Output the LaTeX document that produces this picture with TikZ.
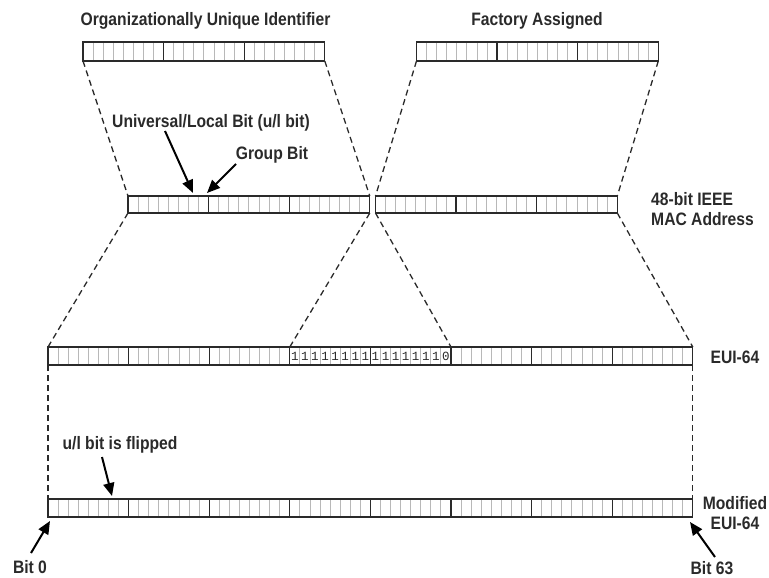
\documentclass[tikz,border=0pt]{standalone}
\usepackage{fontspec}
\setmainfont{Liberation Sans}[FakeStretch=0.87]
\newfontfamily\digitfont{Liberation Mono}
\usetikzlibrary{arrows.meta}
\definecolor{ink}{HTML}{2A2A2A}
\definecolor{bitgray}{HTML}{B8B8B8}
\tikzset{
  barbox/.style={draw=ink, line width=1.3pt, inner sep=0pt, outer sep=0pt, anchor=north west},
  bitline/.style={draw=bitgray, line width=0.9pt},
  byteline/.style={draw=ink, line width=1.3pt},
  dashlink/.style={draw=ink, line width=1.3pt, dash pattern=on 6pt off 4pt},
  arr/.style={draw=black, line width=2pt, -{Triangle[length=13pt,width=11pt]}},
  lbl/.style={text=ink, font=\bfseries\fontsize{18}{20}\selectfont, inner sep=0pt},
  digit/.style={text=ink, font=\digitfont\fontsize{12.5}{12.5}\selectfont, inner sep=0pt}
}
% #1 name, #2 x, #3 y, #4 height, #5 bytes
\newcommand\bitbar[5]{%
  \pgfmathtruncatemacro\nbits{#5*8-1}%
  \pgfmathtruncatemacro\nbytes{#5-1}%
  \foreach \k in {1,...,\nbits} \draw[bitline] (#2+\k*10.075,#3) -- ++(0,#4);
  \foreach \k in {1,...,\nbytes} \draw[byteline] (#2+\k*80.6,#3) -- ++(0,#4);
  \node[barbox, minimum width=#5*80.6pt, minimum height=#4pt] (#1) at (#2,#3) {};
}
\begin{document}
\begin{tikzpicture}[x=1pt,y=-1pt]
\useasboundingbox (0,0) rectangle (769,578);

% titles
\node[lbl] (ouit) at (205.5,21) {Organizationally Unique Identifier};
\node[lbl] (fact) at (537,21) {Factory Assigned};

% bars
\bitbar{oui}{83}{42}{19}{3}
\bitbar{fac}{416.5}{42}{19}{3}
\bitbar{macl}{128}{196}{17}{3}
\bitbar{macr}{375.5}{196}{17}{3}
\bitbar{eui}{48}{347}{18}{8}
\bitbar{meui}{48}{499}{18}{8}

% FFFE field
\node[inner sep=0pt, outer sep=0pt, minimum width=161.2pt, minimum height=18pt, anchor=north west] (fffe) at (289.8,347) {};
\foreach \d [count=\j from 0] in {1,1,1,1,1,1,1,1,1,1,1,1,1,1,1,0}
  \node[digit] at (289.8+\j*10.075+5.04,356.5) {\d};

% dashed connectors
\draw[dashlink] (oui.south west) -- (macl.north west);
\draw[dashlink] (oui.south east) -- (macl.north east);
\draw[dashlink] (fac.south west) -- (macr.north west);
\draw[dashlink] (fac.south east) -- (macr.north east);
\draw[dashlink] (macl.south west) -- (eui.north west);
\draw[dashlink] (macl.south east) -- (fffe.north west);
\draw[dashlink] (macr.south west) -- (fffe.north east);
\draw[dashlink] (macr.south east) -- (eui.north east);
\draw[dashlink] (eui.south west) -- (meui.north west);
\draw[dashlink] (eui.south east) -- (meui.north east);

% labels
\node[lbl] (ult) at (211,123) {Universal/Local Bit (u/l bit)};
\node[lbl] (grp) at (272,155) {Group Bit};
\node[lbl, align=left, anchor=west] (mac) at (651,209) {48-bit IEEE\\MAC Address};
\node[lbl] (euit) at (735,357) {EUI-64};
\node[lbl] (flip) at (120,445) {u/l bit is flipped};
\node[lbl, align=center] (meuit) at (735,513) {Modified\\EUI-64};
\node[lbl] (bit0) at (30,567) {Bit 0};
\node[lbl] (bit63) at (712,568) {Bit 63};

% arrows
\coordinate (ulA) at (165,131);
\coordinate (ulB) at (193,193);
\coordinate (grA) at (236,164);
\coordinate (grB) at (207,193);
\coordinate (flA) at (102,457);
\coordinate (flB) at (112,496);
\coordinate (b0A) at (31,553);
\coordinate (b0B) at (50,521);
\coordinate (b63A) at (715,557);
\coordinate (b63B) at (690,522);
\draw[arr] (ulA) -- (ulB);
\draw[arr] (grA) -- (grB);
\draw[arr] (flA) -- (flB);
\draw[arr] (b0A) -- (b0B);
\draw[arr] (b63A) -- (b63B);
\end{tikzpicture}
\end{document}
